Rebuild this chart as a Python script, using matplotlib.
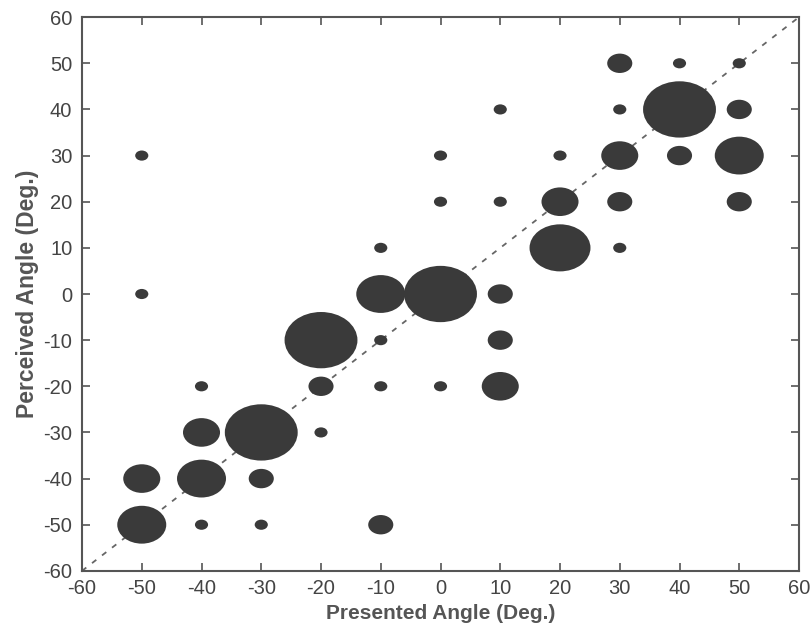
import matplotlib
matplotlib.use("Agg")
import matplotlib.pyplot as plt
from matplotlib.patches import Circle

plt.rcParams['font.family'] = ['Liberation Sans', 'DejaVu Sans']
plt.rcParams['axes.unicode_minus'] = False

# presented angle, perceived angle, number of responses
presented = [-50, -50, -50, -50,
             -40, -40, -40, -40,
             -30, -30, -30,
             -20, -20, -20,
             -10, -10, -10, -10, -10,
             0, 0, 0, 0,
             10, 10, 10, 10, 10,
             20, 20, 20,
             30, 30, 30, 30, 30,
             40, 40, 40,
             50, 50, 50, 50]
perceived = [30, 0, -40, -50,
             -20, -30, -40, -50,
             -30, -40, -50,
             -10, -20, -30,
             10, 0, -10, -20, -50,
             30, 20, 0, -20,
             40, 20, 0, -10, -20,
             30, 20, 10,
             50, 40, 30, 20, 10,
             50, 40, 30,
             50, 40, 30, 20]
counts = [1, 1, 3, 4,
          1, 3, 4, 1,
          6, 2, 1,
          6, 2, 1,
          1, 4, 1, 1, 2,
          1, 1, 6, 1,
          1, 1, 2, 2, 3,
          1, 3, 5,
          2, 1, 3, 2, 1,
          1, 6, 2,
          1, 2, 4, 2]

ticks = [-60, -50, -40, -30, -20, -10, 0, 10, 20, 30, 40, 50, 60]

fig = plt.figure(figsize=(8.12, 6.35), dpi=100)
ax = fig.add_axes([0.101, 0.101, 0.883, 0.872])

gray = '#555555'
ax.plot([-60, 60], [-60, 60], linestyle=(0, (3, 4)), color='#666666', lw=1.3, zorder=1)

for x, y, c in zip(presented, perceived, counts):
    ax.add_patch(Circle((x, y), radius=c + 0.1, facecolor='#3a3a3a',
                        edgecolor='none', zorder=2))

ax.set_xlim(-60, 60)
ax.set_ylim(-60, 60)
ax.set_xticks(ticks)
ax.set_yticks(ticks)
ax.tick_params(direction='in', length=6, width=1.2, colors=gray,
               labelsize=14.5, top=True, right=True, pad=6)
ax.tick_params(axis='y', pad=7)
for lab in ax.get_xticklabels() + ax.get_yticklabels():
    lab.set_color('#444444')
for s in ax.spines.values():
    s.set_color(gray)
    s.set_linewidth(1.5)

ax.set_xlabel('Presented Angle (Deg.)', fontsize=15, fontweight='bold',
              color='#555555', labelpad=4)
ax.set_ylabel('Perceived Angle (Deg.)', fontsize=16.5, fontweight='bold',
              color='#555555', labelpad=3)

fig.savefig('out.png', dpi=100)
